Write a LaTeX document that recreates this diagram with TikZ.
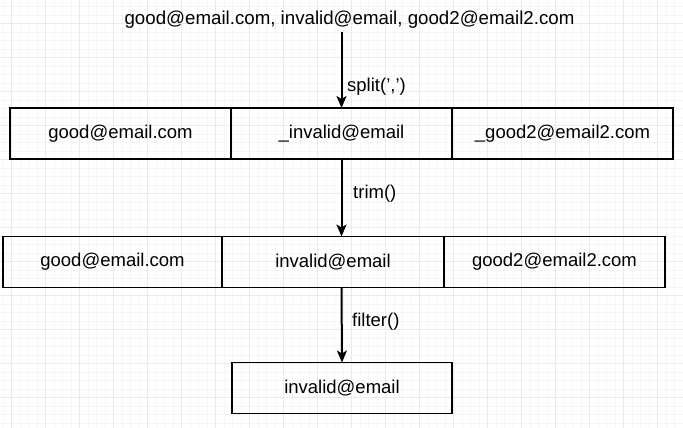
\documentclass[tikz,border=0pt]{standalone}
\usepackage{fontspec}
\setmainfont{Liberation Sans}
\usetikzlibrary{arrows.meta}
\definecolor{gridmajor}{HTML}{EAEAEA}
\definecolor{gridminor}{HTML}{F6F6F6}
\tikzset{
  cell/.style={draw=black, line width=1.4pt, inner sep=0pt, outer sep=0pt,
    minimum height=51pt, font=\fontsize{18.5}{22}\selectfont},
  lbl/.style={anchor=west, inner sep=0pt, font=\fontsize{18.5}{22}\selectfont},
  flow/.style={line width=2pt, -{Stealth[length=12pt,width=10pt,inset=3pt]}},
}
\begin{document}
\begin{tikzpicture}[x=1pt,y=-1pt]
\useasboundingbox (0,0) rectangle (683,428);
\fill[white] (0,0) rectangle (683,428);
% grid
\foreach \i in {0,...,80} {
  \pgfmathsetmacro{\gx}{3.2+8.5*\i}
  \draw[gridminor, line width=0.5pt] (\gx,0) -- (\gx,428);
}
\foreach \i in {0,...,50} {
  \pgfmathsetmacro{\gy}{6.3+8.5*\i}
  \draw[gridminor, line width=0.5pt] (0,\gy) -- (683,\gy);
}
\foreach \i in {0,...,20} {
  \pgfmathsetmacro{\gx}{11.7+34*\i}
  \draw[gridmajor, line width=0.7pt] (\gx,0) -- (\gx,428);
}
\foreach \i in {0,...,12} {
  \pgfmathsetmacro{\gy}{-10.7+34*\i}
  \draw[gridmajor, line width=0.7pt] (0,\gy) -- (683,\gy);
}
% top text
\node[anchor=base, inner sep=0pt, font=\fontsize{18.7}{22}\selectfont] (top) at (349.5,25)
  {good@email.com, invalid@email, good2@email2.com};
% row 1
\node[cell, minimum width=221pt] (r1a) at (120.5,133.5) {good@email.com};
\node[cell, minimum width=221pt] (r1b) at (341.5,133.5) {\_invalid@email};
\node[cell, minimum width=221pt] (r1c) at (562.5,133.5) {\_good2@email2.com};
% row 2
\node[cell, minimum width=219pt] (r2a) at (112.5,262) {good@email.com};
\node[cell, minimum width=222pt] (r2b) at (333,262) {invalid@email};
\node[cell, minimum width=221pt] (r2c) at (554.5,262) {good2@email2.com};
% row 3
\node[cell, minimum width=220pt] (r3) at (342,388) {invalid@email};
% arrows
\coordinate (a1s) at (top.south -| r1b.north);
\draw[flow, shorten <=3pt] (a1s) -- (r1b.north);
\draw[flow] (r1b.south) -- (r1b.south |- r2b.north);
\draw[flow] (r1b.south |- r2b.south) -- (r3.north);
% labels
\node[lbl] (l1) at (347,87) {split(',')};
\node[lbl] (l2) at (353,194) {trim()};
\node[lbl] (l3) at (352,322) {filter()};
\end{tikzpicture}
\end{document}
